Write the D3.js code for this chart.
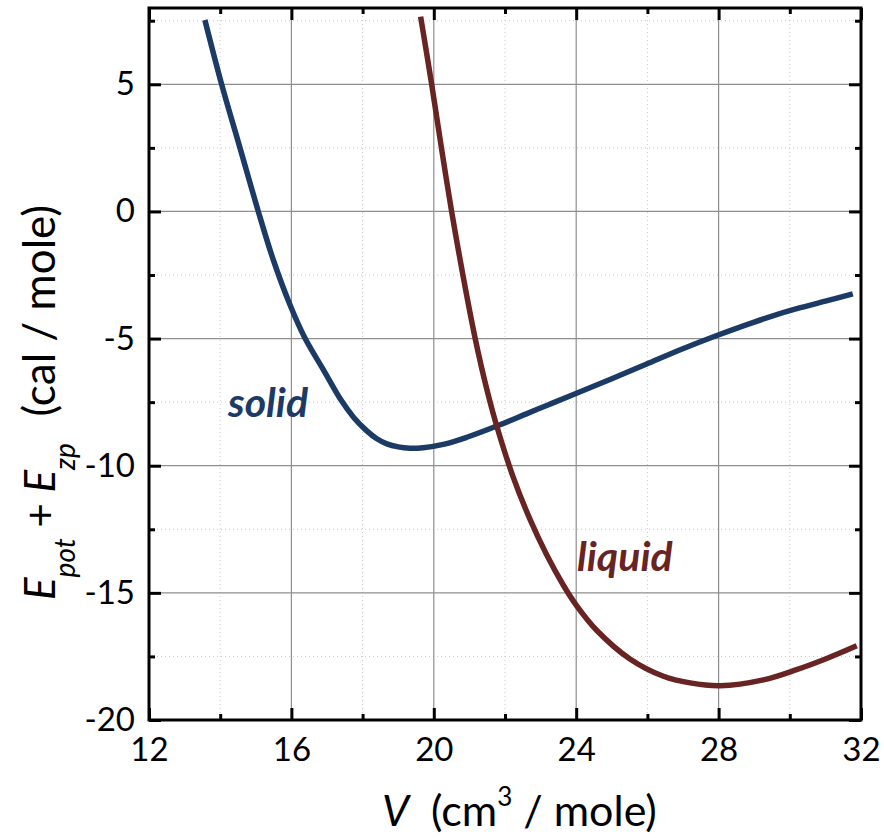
<!DOCTYPE html>
<html>
<head>
<meta charset="utf-8">
<script src="https://cdn.jsdelivr.net/npm/d3@7"></script>
<style>
  html, body { margin: 0; padding: 0; background: #fff; }
  svg { display: block; }
  text { font-family: Lato, "Open Sans", sans-serif; white-space: pre; }
</style>
</head>
<body>
<svg id="chart" width="884" height="838"></svg>
<script>
// ---- data ----
const solidV = [13.57, 14.04, 14.56, 15.07, 15.49, 15.96, 16.38, 16.9, 17.39, 17.75, 18.11, 18.4, 18.68, 19.0, 19.33, 19.7, 20.3, 20.93, 21.86, 22.6, 23.26, 24.01, 25.0, 25.98, 26.96, 27.95, 29.0, 30.0, 31.0, 31.77];
const solidE = [7.53, 5.0, 2.48, 0.0, -1.9, -3.67, -4.98, -6.23, -7.41, -8.1, -8.62, -8.94, -9.14, -9.26, -9.31, -9.29, -9.15, -8.88, -8.39, -7.96, -7.58, -7.15, -6.58, -6.0, -5.42, -4.88, -4.35, -3.9, -3.53, -3.24];
const liquidV = [19.63, 19.94, 20.22, 20.5, 20.83, 21.16, 21.49, 21.77, 22.23, 22.7, 23.17, 23.64, 24.01, 24.58, 25.51, 26.45, 27.2, 28.04, 29.26, 30.19, 31.0, 31.88];
const liquidE = [7.66, 5.0, 2.45, 0.0, -2.6, -4.98, -7.0, -8.45, -10.45, -12.1, -13.5, -14.7, -15.5, -16.48, -17.6, -18.28, -18.54, -18.65, -18.42, -18.02, -17.6, -17.08];
const xMajorTicks = [12, 16, 20, 24, 28, 32];
const xMinorTicks = [14, 18, 22, 26, 30];
const yMajorTicks = [5, 0, -5, -10, -15, -20];
const yMinorTicks = [7.5, 2.5, -2.5, -7.5, -12.5, -17.5];
const seriesLabels = ["solid", "liquid"];

// ---- layout ----
const svg = d3.select("#chart");
const L = 149, R = 861, T = 8, B = 720;
const x = d3.scaleLinear().domain([12, 32]).range([L, R]);
const y = d3.scaleLinear().domain([-20, 8]).range([B, T]);
const cSolid = "#1b3a65", cLiquid = "#682323";

// grid
const g = svg.append("g");
g.selectAll(".vminor").data(xMinorTicks).join("line")
  .attr("x1", d => x(d)).attr("x2", d => x(d)).attr("y1", T).attr("y2", B)
  .attr("stroke", "#c8c8c8").attr("stroke-width", 1).attr("stroke-dasharray", "1,3");
g.selectAll(".hminor").data(yMinorTicks).join("line")
  .attr("x1", L).attr("x2", R).attr("y1", d => y(d)).attr("y2", d => y(d))
  .attr("stroke", "#c8c8c8").attr("stroke-width", 1).attr("stroke-dasharray", "1,3");
g.selectAll(".vmajor").data(xMajorTicks.slice(1, -1)).join("line")
  .attr("x1", d => x(d)).attr("x2", d => x(d)).attr("y1", T).attr("y2", B)
  .attr("stroke", "#8e8e8e").attr("stroke-width", 1.2);
g.selectAll(".hmajor").data(yMajorTicks.slice(0, -1)).join("line")
  .attr("x1", L).attr("x2", R).attr("y1", d => y(d)).attr("y2", d => y(d))
  .attr("stroke", "#8e8e8e").attr("stroke-width", 1.2);

// curves
const line = d3.line().x(d => x(d[0])).y(d => y(d[1])).curve(d3.curveCatmullRom.alpha(0.5));
svg.append("path").datum(d3.zip(solidV, solidE)).attr("d", line)
  .attr("fill", "none").attr("stroke", cSolid).attr("stroke-width", 5.5);
svg.append("path").datum(d3.zip(liquidV, liquidE)).attr("d", line)
  .attr("fill", "none").attr("stroke", cLiquid).attr("stroke-width", 5.5);

// axes (ticks inward on all four sides)
const tickStyle = sel => {
  sel.select(".domain").remove();
  sel.selectAll(".tick line").attr("stroke", "#000").attr("stroke-width", 3);
};
const tickFont = sel => sel.selectAll("text").attr("font-size", 33).attr("fill", "#000")
  .attr("font-family", "Lato, 'Open Sans', sans-serif");

// bottom
svg.append("g").attr("transform", `translate(0,${B})`)
  .call(d3.axisBottom(x).tickValues(xMajorTicks).tickSize(-12).tickPadding(18).tickFormat(d3.format("d")))
  .call(tickStyle).call(tickFont);
svg.append("g").attr("transform", `translate(0,${B})`)
  .call(d3.axisBottom(x).tickValues(xMinorTicks).tickSize(-6).tickFormat(""))
  .call(tickStyle);
// top
svg.append("g").attr("transform", `translate(0,${T})`)
  .call(d3.axisTop(x).tickValues(xMajorTicks).tickSize(-12).tickFormat(""))
  .call(tickStyle);
svg.append("g").attr("transform", `translate(0,${T})`)
  .call(d3.axisTop(x).tickValues(xMinorTicks).tickSize(-6).tickFormat(""))
  .call(tickStyle);
// left
svg.append("g").attr("transform", `translate(${L},0)`)
  .call(d3.axisLeft(y).tickValues(yMajorTicks).tickSize(-12).tickPadding(14).tickFormat(d => String(d)))
  .call(tickStyle).call(tickFont);
svg.append("g").attr("transform", `translate(${L},0)`)
  .call(d3.axisLeft(y).tickValues(yMinorTicks).tickSize(-6).tickFormat(""))
  .call(tickStyle);
// right
svg.append("g").attr("transform", `translate(${R},0)`)
  .call(d3.axisRight(y).tickValues(yMajorTicks).tickSize(-12).tickFormat(""))
  .call(tickStyle);
svg.append("g").attr("transform", `translate(${R},0)`)
  .call(d3.axisRight(y).tickValues(yMinorTicks).tickSize(-6).tickFormat(""))
  .call(tickStyle);

// frame
svg.append("rect").attr("x", L).attr("y", T).attr("width", R - L).attr("height", B - T)
  .attr("fill", "none").attr("stroke", "#000").attr("stroke-width", 3);

// series labels
svg.append("text").attr("x", 228).attr("y", 417).attr("fill", cSolid)
  .attr("font-size", 41).attr("font-weight", "bold").attr("font-style", "italic")
  .text(seriesLabels[0]);
svg.append("text").attr("x", 577).attr("y", 571).attr("fill", cLiquid)
  .attr("font-size", 41).attr("font-weight", "bold").attr("font-style", "italic")
  .text(seriesLabels[1]);

// x axis title
const xt = svg.append("text").attr("x", 382).attr("y", 826).attr("font-size", 43).attr("fill", "#000");
xt.append("tspan").attr("font-style", "italic").text("V");
xt.append("tspan").text("  (cm");
xt.append("tspan").attr("font-size", 26).attr("dy", -20).text("3");
xt.append("tspan").attr("dy", 20).text(" / mole)");

// y axis title
const yt = svg.append("text").attr("transform", "translate(55,600) rotate(-90)")
  .attr("font-size", 42).attr("fill", "#000");
yt.append("tspan").attr("font-style", "italic").text("E");
yt.append("tspan").attr("font-style", "italic").attr("font-size", 28).attr("dy", 20).text("pot");
yt.append("tspan").attr("dy", -20).text(" + ");
yt.append("tspan").attr("font-style", "italic").text("E");
yt.append("tspan").attr("font-style", "italic").attr("font-size", 28).attr("dy", 20).text("zp");
svg.append("text").attr("transform", "translate(55,205) rotate(-90)")
  .attr("font-size", 44).attr("fill", "#000").attr("text-anchor", "end")
  .text("(cal / mole)");
</script>
</body>
</html>
